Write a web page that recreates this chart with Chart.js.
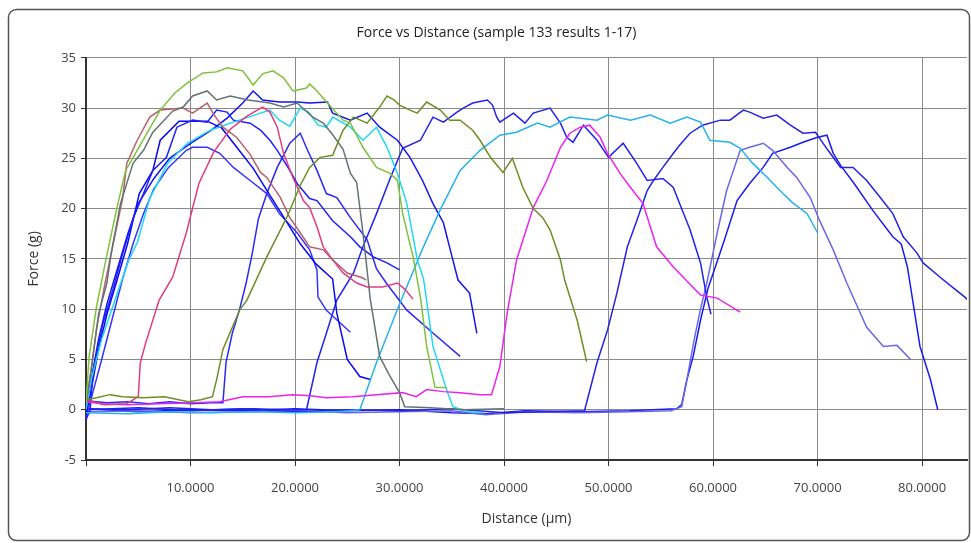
<!DOCTYPE html>
<html>
<head>
<meta charset="utf-8">
<title>Force vs Distance</title>
<script src="https://cdn.jsdelivr.net/npm/chart.js@4.4.1/dist/chart.umd.min.js"></script>
<style>
  html, body { margin: 0; padding: 0; background: #fff; }
  canvas { display: block; }
</style>
</head>
<body>
<canvas id="grafico" width="971" height="543"></canvas>
<script>
// curves, [distance µm, force g]
const lightGreen = [[0,0.6],[0.3,5.3],[1,10.2],[1.9,14.9],[2.9,19.8],[3.8,23.8],[4.9,25.8],[6,27.8],[7.1,29.8],[8.5,31.5],[9.7,32.5],[11.2,33.5],[12.5,33.6],[13.5,34],[15,33.7],[16,32.3],[16.9,33.4],[17.9,33.7],[18.9,33],[19.8,31.7],[21.1,32],[21.4,32.4],[22.1,31.7],[23.1,30.5],[24.6,28.8],[25.3,28.5],[26.5,26.1],[27.8,24.1],[29.1,23.5],[29.8,22.8],[30.3,19.5],[31.3,15.2],[32,11.2],[32.6,6.3],[33.4,2.2],[34.5,2.2]];
const olive = [[0,1],[1,1.2],[2.3,1.5],[3.5,1.3],[5.5,1.2],[7.5,1.3],[9.8,0.8],[11,1],[12.1,1.3],[12.5,3],[13.1,6],[14.7,9.9],[15.4,10.9],[17.3,15.2],[19.2,19.1],[20.5,22.3],[21.4,24.1],[22.4,25.1],[23.6,25.3],[24.6,27.8],[25.6,29.1],[26.9,28.5],[28.1,30.1],[28.8,31.2],[29.5,30.8],[30,30.3],[31,29.8],[31.7,29.5],[32.6,30.6],[33.9,29.8],[34.8,28.8],[35.8,28.8],[37,27.8],[37.7,26.8],[38.7,25.1],[39.9,23.6],[40.8,25],[41.8,22.1],[42.8,20],[43.7,19.1],[44.4,17.9],[45.4,14.9],[45.8,12.9],[47,8.9],[47.9,4.8]];
const grey = [[0,0.5],[0.5,4],[1.2,9.5],[2,12.6],[2.4,15.5],[3.3,20.5],[4.5,24.5],[5.5,25.8],[6.4,27.6],[8.3,29.7],[9.3,30.1],[10.2,31.2],[11.6,31.7],[12.5,30.8],[13.8,31.2],[15.5,30.8],[17.6,30.5],[18.9,30.1],[20.2,30.5],[21.7,29.1],[22.7,28.5],[23.5,27.5],[24.6,25.9],[25.3,23.5],[25.9,22.6],[26.5,17.6],[27.2,11],[28.1,5.3],[29,3.5],[30,1.7],[30.5,0.3],[33,0.2],[36,0],[40,0.1]];
const brown = [[0,0.6],[0.5,4],[1,8],[1.8,12.5],[2.7,17],[3.5,21],[3.9,24.5],[4.9,26.8],[6.1,29.1],[7.1,29.8],[9.3,30],[10.2,29.5],[11.6,30.5],[12.2,29.4],[13.1,28.1],[14.4,27.1],[15.7,25.4],[16.7,23.6],[17.3,23.1],[18.6,21.1],[19.5,19.1],[20.5,17.6],[21.4,16.2],[22.7,15.9],[23.6,14.9],[25,13.6],[26.5,13.1],[26.8,12.9]];
const crimson = [[0,1],[1.7,0.5],[3.9,0.6],[5,1.3],[5.2,4.7],[5.7,6.6],[7,10.9],[8.3,13.2],[9.6,17.6],[10.8,22.5],[12.2,25.6],[13.8,27.9],[15.4,29.2],[16.9,30.1],[17.6,29.6],[18.3,28.1],[18.9,25.5],[19.8,23.1],[20.8,20.8],[21.4,20.1],[22.1,18.2],[22.7,16.2],[23.6,14.9],[24.6,13.6],[25.9,12.6],[26.9,12.2],[28.4,12.2],[29.8,12.6],[30.5,12],[31.3,11]];
const magenta = [[0,0.8],[1.5,0.6],[3.9,0.5],[7,0.6],[10.3,0.7],[12.8,0.8],[15,1.3],[17.5,1.3],[19.8,1.5],[21.5,1.4],[23,1.2],[25.5,1.3],[27.8,1.5],[30.3,1.7],[31.6,1.3],[32.6,2],[34.2,1.8],[35.8,1.7],[37.7,1.5],[38.8,1.5],[39.6,4.3],[40.3,9.6],[41.2,14.9],[42.8,20.1],[44.1,22.8],[45.4,26.1],[46.3,27.5],[47.3,28.1],[48.2,28.3],[49.2,27.1],[49.9,25.5],[51.1,23.5],[52.1,22.1],[53.3,20.5],[54.6,16.2],[56.2,14.2],[58.8,11.4],[60.4,11.1],[62.6,9.7]];
const cyan1 = [[0,0],[0.5,3],[1.5,7],[3,11.6],[4.1,14.9],[4.9,16.6],[6.1,21],[7.8,24.5],[9.7,26.5],[11.9,27.8],[14.1,28.6],[16.7,29.5],[17.6,29.8],[18.5,28.8],[19.5,28.2],[20.5,30],[21.3,29.6],[22.2,28.3],[23,28.1],[23.6,29.1],[25.3,28.1],[26.5,26.8],[27.8,28.1],[28.8,26.1],[29.8,23.5],[30.7,20.5],[31.3,17.2],[31.7,14.9],[32.3,13],[33.2,6.3],[34.5,2],[35.1,0.3],[36.5,-0.2],[38,-0.3]];
const cyan2 = [[0,-0.3],[4,-0.4],[8,-0.2],[12,-0.3],[16,-0.2],[20,-0.3],[24,-0.2],[26.2,0],[27.8,4.7],[29.8,10],[31,13],[32.2,16],[33.9,19.9],[35.8,23.8],[37.7,25.8],[39.6,27.3],[41.2,27.6],[43.2,28.5],[44.4,28.1],[46.3,29.1],[48.9,28.8],[49.9,29.3],[52.1,28.8],[54,29.3],[55.9,28.5],[57.5,29.1],[58.8,28.6],[59.7,26.8],[61.6,26.6],[62.6,26],[63.8,24.5],[65.2,23.1],[66.4,21.8],[67.6,20.6],[69,19.5],[70,17.6]];
const blue1 = [[0,-1],[0.4,0],[0.7,4],[1.6,8.5],[2.6,12],[3.5,15.5],[4.5,19],[5.5,21.5],[6.4,23.8],[7.7,25.1],[8.7,28.1],[10.2,28.8],[11.6,28.6],[12.5,29.8],[13.5,29.6],[14.1,28.8],[15.7,28.5],[16.7,27.8],[17.6,26.8],[18.3,25.8],[19.5,23.8],[20.2,22.5],[21.4,21],[22.1,20.8],[23.6,18.8],[25.3,17.2],[26.2,16.2],[27.5,15.2],[28.8,14.6],[30,13.9]];
const blue2 = [[0,-0.5],[0.5,2],[1.2,6],[2,9.5],[3,13],[4,16.6],[5.1,21.5],[6.4,23.8],[7.1,26.8],[8.9,28.7],[11.6,28.7],[13,28],[14.5,26],[16,24],[17.5,21.5],[19,19],[20.5,16.5],[22,14.5],[23.6,13],[24,9.6],[25,5],[26.2,3.3],[27.2,3]];
const blue3 = [[0,-0.8],[0.6,1.5],[1.5,5],[2.5,9],[3.5,13],[4.5,16.5],[5.5,19.5],[6.5,22],[7.9,24.1],[9.6,25.8],[10.2,26.1],[11.6,26.1],[12.8,25.5],[14.1,24.1],[15.7,22.8],[17.3,21.5],[18.5,19.5],[20.2,17.6],[21.4,15.9],[22.1,13.9],[22.2,11.2],[23,9.9],[25.3,7.7]];
const blue4 = [[0,0],[0.5,3],[1.2,7],[2,10.5],[3,14],[4,17.5],[5,20.5],[6.5,23],[8,25],[10,26.5],[12,27.8],[13.5,29],[15,30.5],[16,31.7],[16.9,30.8],[18.5,30.6],[20.2,30.6],[21.4,30.5],[23.1,30.6],[23.6,29.5],[25.3,28.8],[26.9,29.5],[28.1,28.1],[29.8,26.8],[31,25.1],[32.2,22.8],[33.2,20.5],[34.2,18.6],[35.1,14.9],[35.6,12.9],[36.7,11.6],[37.4,7.6]];
const blue5 = [[0,0.9],[2,0.7],[4,0.8],[6,0.6],[8,0.8],[10,0.6],[12,0.7],[13.1,0.7],[13.4,4.7],[14,7.6],[14.7,10],[15.3,12.5],[15.9,15.5],[16.5,19],[17.3,21.5],[18.3,24.1],[19.5,26.5],[20.5,27.5],[21.2,25.8],[22.1,23.8],[23,21.5],[24,21.1],[25.3,19.1],[26.9,16.9],[27.8,14],[28.8,12.5],[30.7,9.9],[33,7.8],[35.8,5.3]];
const blue6 = [[0,0.1],[4,0],[8,0.2],[12,0],[16,0.1],[19,0],[21.1,0],[22.1,4.7],[23,7.6],[24,10.9],[25.6,13.6],[26.5,16.2],[27.8,19.5],[29.1,23],[30.3,26],[32,26.8],[33.2,29.1],[34.2,28.6],[35.5,29.6],[36.1,30],[37,30.5],[38.4,30.8],[38.9,30.3],[39.3,29.1],[39.6,28.6],[40.9,29.5],[42,28.5],[42.8,29.5],[44.4,30],[45.4,28.5],[46,27.1],[46.6,26.6],[47.6,28.3],[48.9,26.8],[50,25.1],[51.4,26.5],[52.7,24.5],[53.7,22.8],[55.2,23],[56.2,22.1],[56.8,20.5],[57.8,17.9],[58.8,14.6],[59.4,11.2],[59.8,9.5]];
const blue7 = [[0,0],[5,0.2],[10,-0.1],[15,0.1],[20,-0.2],[25,0],[30,-0.1],[35,0.1],[40,-0.3],[44,-0.2],[47.7,-0.1],[48.9,4.7],[49.9,7.9],[50.8,11.6],[51.8,16.2],[52.7,18.8],[53.7,21.8],[54.3,22.8],[55.2,24.1],[56.2,25.5],[56.8,26.3],[57.8,27.5],[59,28.3],[60.7,28.8],[61.6,28.8],[62.9,29.8],[63.5,29.6],[64.8,29],[66.1,29.3],[67.4,28.3],[68.6,27.5],[69.8,27.6],[71,25.8],[72.2,24.1],[73.4,24.1],[74.7,22.8],[76,21.1],[77.2,19.5],[78.2,17.2],[79.5,15.6],[80.1,14.6],[81.7,13.2],[82.9,12.2],[84.1,11.2],[84.5,10.8]];
const blue8 = [[0,-0.2],[5,-0.1],[10,-0.3],[15,-0.2],[20,-0.1],[25,-0.3],[30,-0.2],[35,-0.1],[38.3,-0.5],[42,-0.2],[47,-0.3],[52,-0.2],[56,-0.1],[57,0.3],[57.5,3],[58.2,7],[58.8,10],[59.4,12.6],[60.4,17.6],[61.3,21.8],[62.6,25.8],[63.5,26.1],[64.8,26.5],[65.7,25.8],[67.1,24.1],[68,23.1],[69.3,21.1],[70.2,18.8],[71.5,15.9],[72.8,12.6],[74.7,8.2],[76.3,6.3],[77.6,6.4],[78.9,5]];
const blue9 = [[0,0.1],[5,-0.2],[10,0],[15,-0.1],[20,0.1],[25,-0.1],[30,0],[35,-0.3],[38.3,-0.4],[42,-0.1],[47,-0.2],[52,-0.1],[56.5,0.1],[57,0.5],[57.5,3],[58.1,5.3],[58.8,8.9],[59.5,12],[61,16.6],[62.3,20.8],[63.5,22.5],[64.8,24.1],[65.7,25.5],[67.4,26.1],[68.6,26.6],[70,27.1],[70.9,27.3],[71.5,25.5],[72.2,24.3],[73.5,22.5],[75.3,19.8],[77.2,17.2],[78,16.5],[78.6,14.2],[79.1,10.9],[79.8,6.3],[80.8,3],[81.5,0]];

const curveNames = ["lightGreen","olive","grey","brown","crimson","magenta","cyan1","cyan2","blue1","blue2","blue3","blue4","blue5","blue6","blue7","blue8","blue9"];
const curveData = [lightGreen, olive, grey, brown, crimson, magenta, cyan1, cyan2, blue1, blue2, blue3, blue4, blue5, blue6, blue7, blue8, blue9];
const curveColors = ["#7cc23a","#6b8f24","#637373","#b8606c","#e03c82","#ee22ee","#1ed8f8","#26b2ee","#2020ff","#0808f4","#3434ff","#1414ee","#2a2af2","#2222ee","#2424e0","#6868e8","#1a1af2"];

const TITLE = "Force vs Distance (sample 133 results 1-17)";
const X_TITLE = "Distance (µm)";
const Y_TITLE = "Force (g)";
const FONT = "'Open Sans', 'DejaVu Sans', sans-serif";

const datasets = curveData.map((arr, i) => ({
  label: curveNames[i],
  data: arr.map(([x, y]) => ({ x, y })),
  borderColor: curveColors[i],
  borderWidth: 1.5,
  pointRadius: 0,
  tension: 0,
  fill: false
}));

// moldura arredondada em volta do gráfico
const moldura = {
  id: "moldura",
  beforeDraw(chart) {
    const c = chart.ctx;
    c.save();
    c.fillStyle = "#fff";
    c.fillRect(0, 0, chart.width, chart.height);
    c.strokeStyle = "#555";
    c.lineWidth = 1.5;
    c.beginPath();
    c.roundRect(8.5, 9.5, 961, 531, 8);
    c.stroke();
    c.restore();
  }
};

const ctx = document.getElementById("grafico").getContext("2d");
new Chart(ctx, {
  type: "line",
  data: { datasets },
  plugins: [moldura],
  options: {
    responsive: false,
    animation: false,
    layout: { padding: { left: 26, right: 4, top: 0, bottom: 8 } },
    plugins: {
      legend: { display: false },
      tooltip: { enabled: false },
      title: {
        display: true,
        text: TITLE,
        color: "#222",
        font: { family: FONT, size: 14, weight: "normal" },
        padding: { top: 25, bottom: 16 }
      }
    },
    scales: {
      x: {
        type: "linear",
        min: 0,
        max: 84.3,
        afterFit: s => { s.height = 75; },
        border: { color: "#333", width: 2 },
        grid: { color: "#8a8a8a", lineWidth: 1, tickLength: 6, tickColor: "#333" },
        ticks: {
          stepSize: 10,
          includeBounds: false,
          maxRotation: 0,
          autoSkip: false,
          color: "#444",
          padding: 14,
          font: { family: FONT, size: 13 },
          callback: v => v === 0 ? "" : v.toFixed(4)
        },
        title: {
          display: true,
          text: X_TITLE,
          color: "#333",
          font: { family: FONT, size: 14 },
          padding: { top: 4, bottom: 8 }
        }
      },
      y: {
        min: -5,
        max: 35,
        afterFit: s => { s.width = 60; },
        border: { color: "#333", width: 2 },
        grid: { color: "#8a8a8a", lineWidth: 1, tickLength: 5, tickColor: "#333" },
        ticks: {
          stepSize: 5,
          color: "#444",
          padding: 5,
          font: { family: FONT, size: 13 }
        },
        title: {
          display: true,
          text: Y_TITLE,
          color: "#333",
          font: { family: FONT, size: 14 },
          padding: { top: 0, bottom: 4 }
        }
      }
    }
  }
});
</script>
</body>
</html>
